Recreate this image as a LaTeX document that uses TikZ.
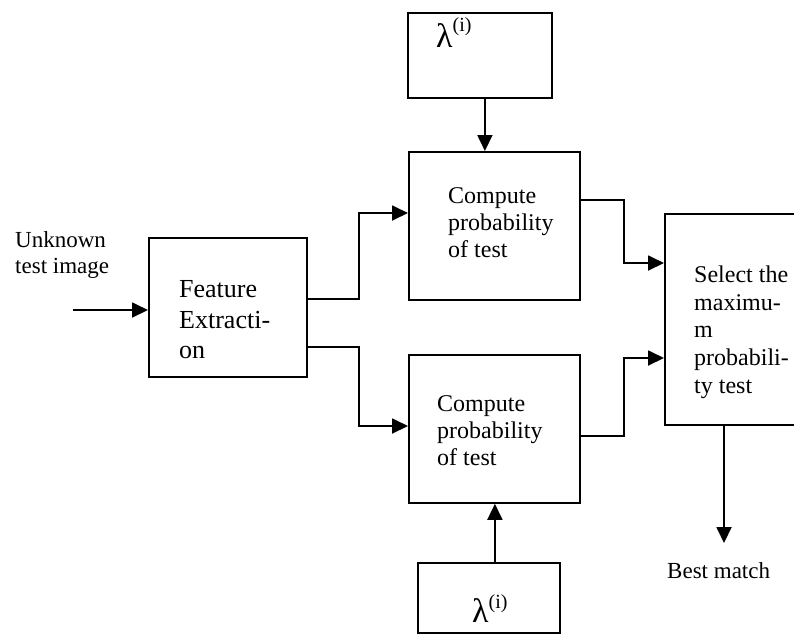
\documentclass[tikz,border=0pt]{standalone}
\usepackage{fontspec}
\setmainfont{Liberation Serif}
\usetikzlibrary{arrows.meta}
\begin{document}
\begin{tikzpicture}[x=1pt,y=-1pt,
  box/.style={draw, line width=1.8pt, inner sep=0pt, anchor=north west},
  arr/.style={line width=1.8pt, -{Triangle[length=16pt,width=15pt]}},
  txt/.style={inner sep=0pt, anchor=base west, font=\fontsize{24}{28}\selectfont},
  txts/.style={inner sep=0pt, anchor=base west, font=\fontsize{23}{27}\selectfont},
  txtf/.style={inner sep=0pt, anchor=base west, font=\fontsize{26}{30}\selectfont},
  lam/.style={inner sep=0pt, anchor=base west, font=\fontsize{34}{34}\selectfont}]
\useasboundingbox (0,0) rectangle (794,633);
\clip (0,0) rectangle (794,633);
% boxes
\node[box, minimum width=144pt, minimum height=85pt] (lamT) at (407,12) {};
\node[box, minimum width=171pt, minimum height=148pt] (cT) at (408,151) {};
\node[box, minimum width=158pt, minimum height=139pt] (fe) at (148,237) {};
\node[box, minimum width=171pt, minimum height=148pt] (cB) at (408,354) {};
\node[box, minimum width=160pt, minimum height=211pt] (sel) at (664,213) {};
\node[box, minimum width=142pt, minimum height=70pt] (lamB) at (417,562) {};
% texts
\node[lam] (l1) at (436,47) {λ\raisebox{16pt}{\fontsize{20}{20}\selectfont(i)}};
\node[lam] (l2) at (472,622) {λ\raisebox{14pt}{\fontsize{20}{20}\selectfont(i)}};
\node[txts] (u1) at (15,247) {Unknown};
\node[txts] (u2) at (15,273) {test image};
\node[txtf] (f1) at (179,297) {Feature};
\node[txtf] (f2) at (179,328) {Extracti-};
\node[txtf] (f3) at (179,358) {on};
\node[txt] (t1) at (448,203) {Compute};
\node[txt] (t2) at (448,230) {probability};
\node[txt] (t3) at (448,257) {of test};
\node[txt] (b1) at (437,411) {Compute};
\node[txt] (b2) at (437,438) {probability};
\node[txt] (b3) at (437,465) {of test};
\node[txt] (s1) at (694,282) {Select the};
\node[txt] (s2) at (694,310) {maximu-};
\node[txt] (s3) at (694,337) {m};
\node[txt] (s4) at (694,365) {probabili-};
\node[txt] (s5) at (694,393) {ty test};
\node[txts] (bm) at (667,578) {Best match};
% connectors
\coordinate (in) at (73,310);
\draw[arr] (in) -- (in -| fe.west);
\draw[arr] ([yshift=-62pt]fe.north east) -- ++(51,0) |- ([yshift=-62pt]cT.north west);
\draw[arr] ([yshift=-110pt]fe.north east) -- ++(51,0) |- ([yshift=-72pt]cB.north west);
\draw[arr] ([yshift=-49pt]cT.north east) -- ++(43,0) |- ([yshift=-50pt]sel.north west);
\draw[arr] ([yshift=-82pt]cB.north east) -- ++(43,0) |- ([yshift=-145pt]sel.north west);
\draw[arr] ([xshift=5pt]lamT.south) -- ([xshift=5pt]lamT.south |- cT.north);
\draw[arr] ([xshift=6pt]lamB.north) -- ([xshift=6pt]lamB.north |- cB.south);
\coordinate (bmtip) at (724,543);
\draw[arr] (bmtip |- sel.south) -- (bmtip);
\end{tikzpicture}
\end{document}
